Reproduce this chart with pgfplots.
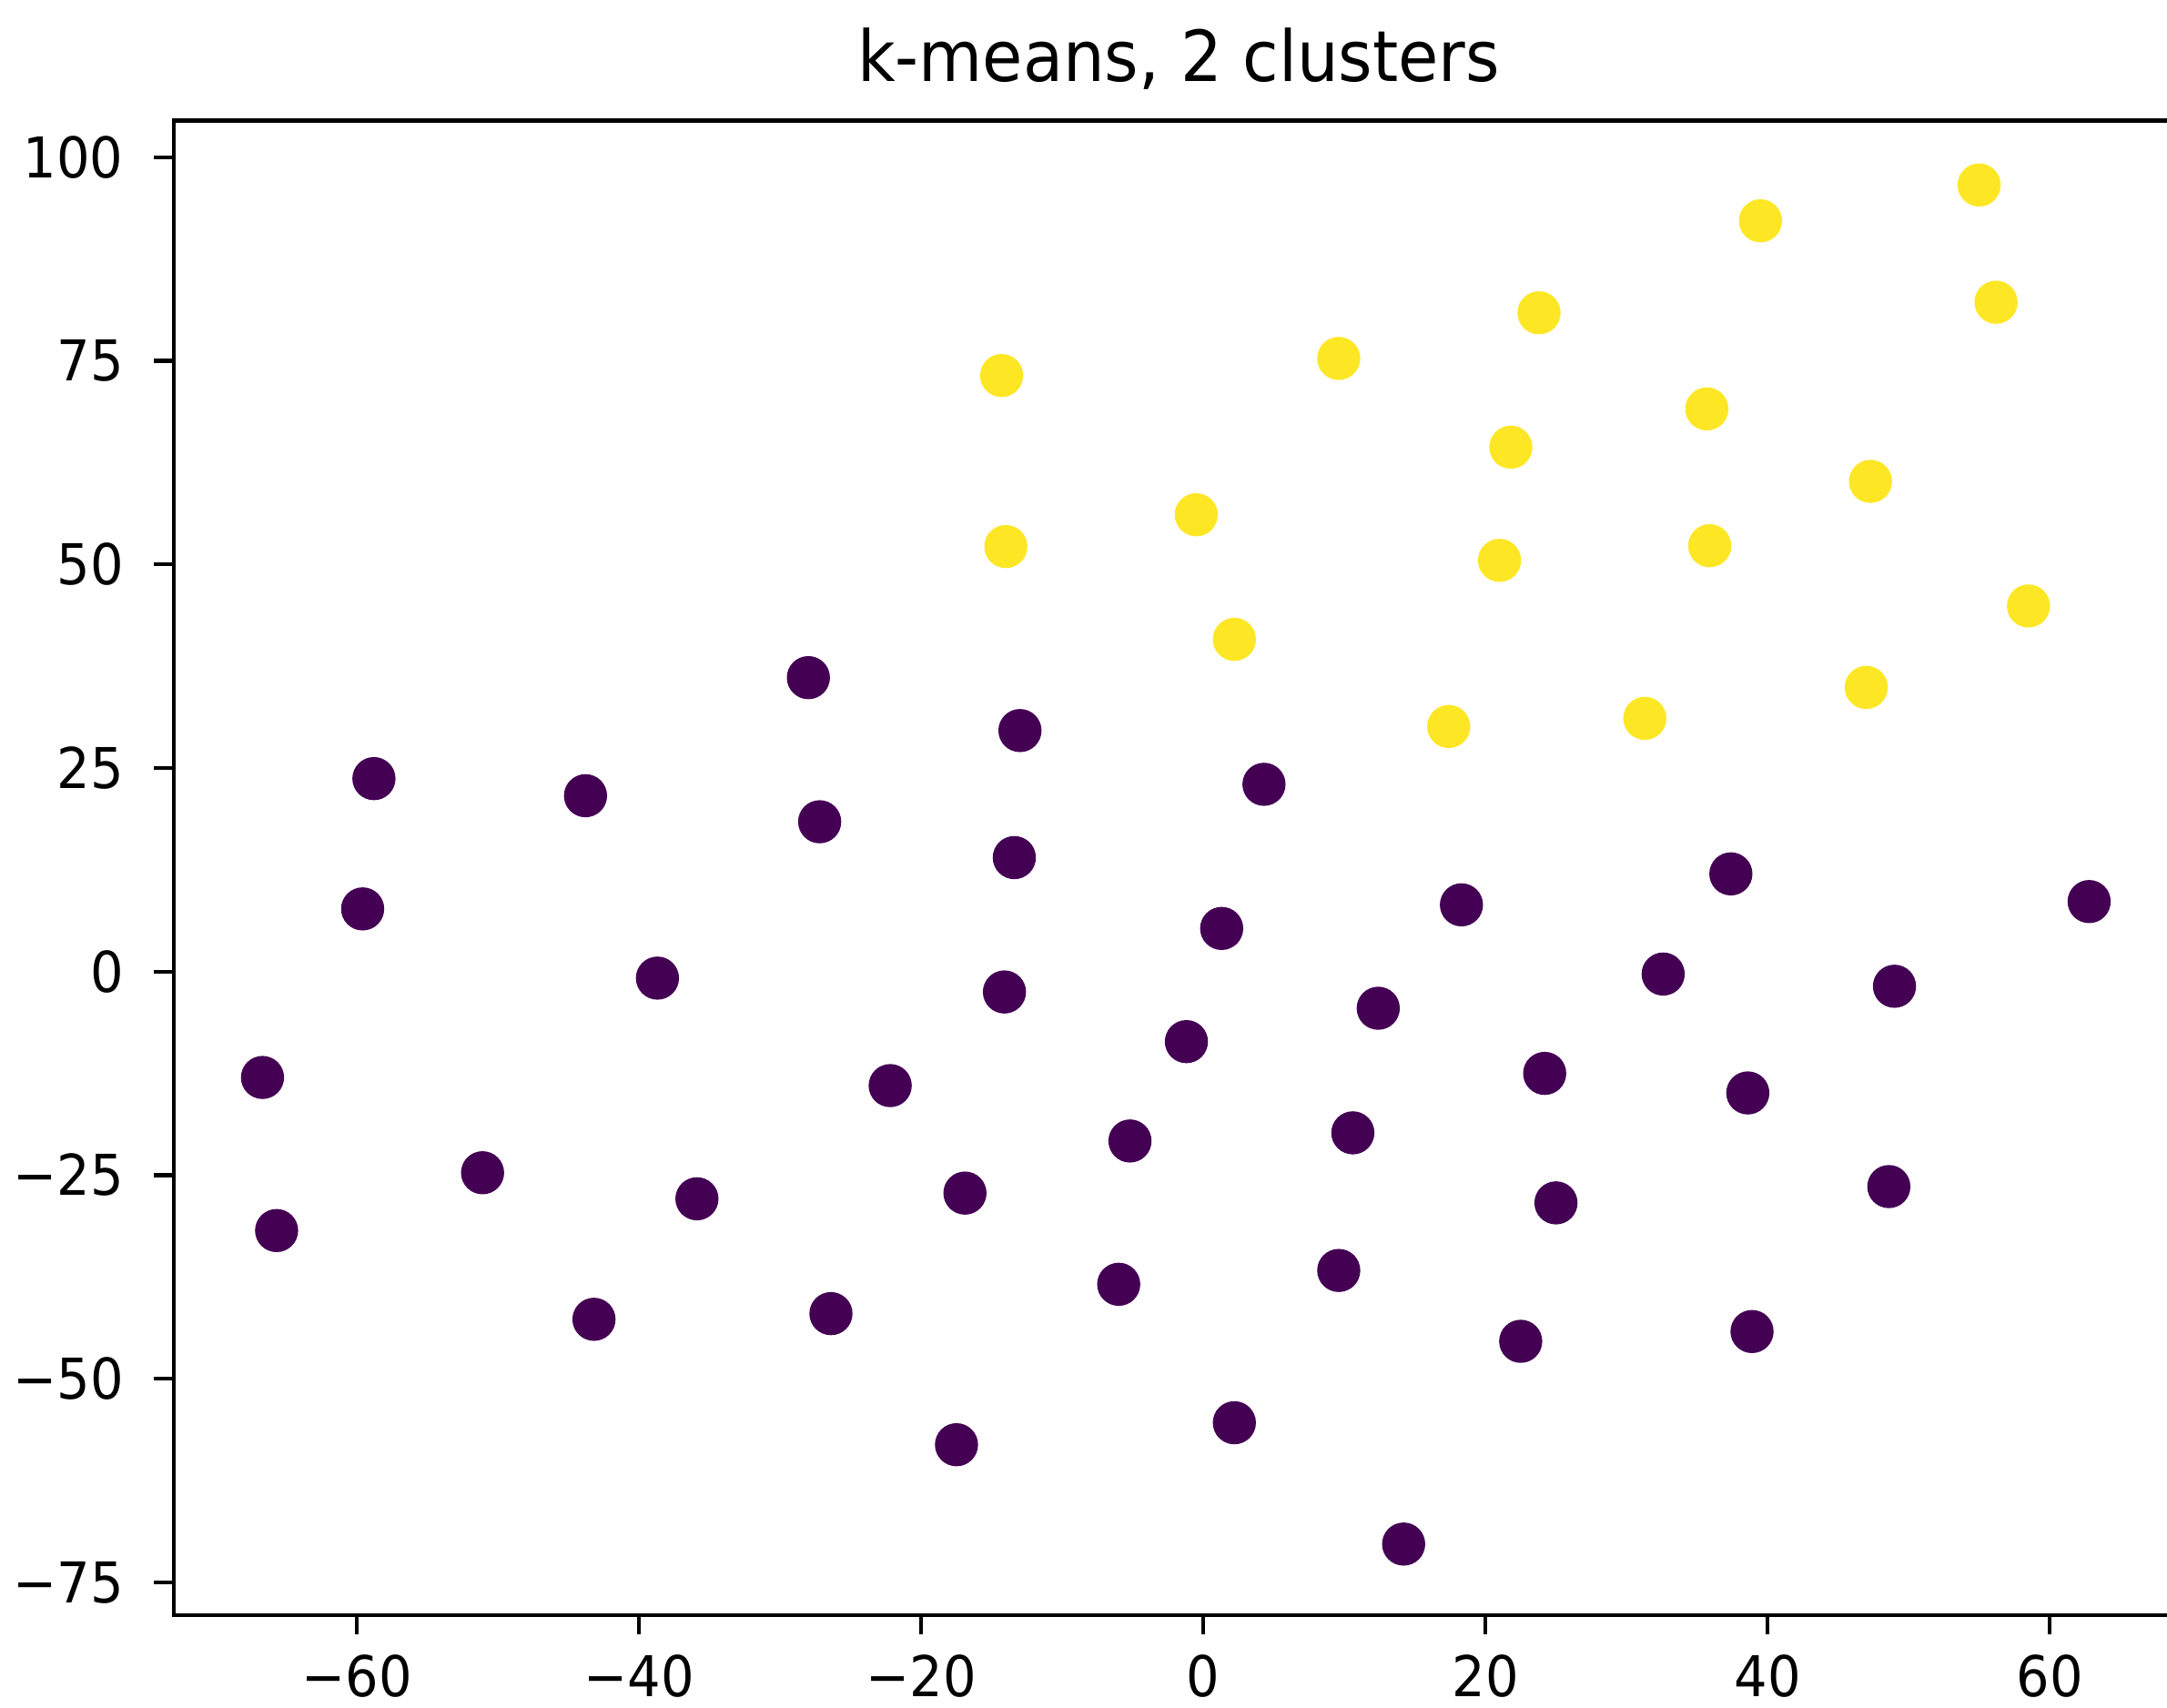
\documentclass[border=0pt]{standalone}
\usepackage{fontspec}
\setmainfont{DejaVu Sans}[FakeStretch=0.93]
\usepackage{pgfplots}
\pgfplotsset{compat=1.18}

\definecolor{vlow}{HTML}{440154}
\definecolor{vhigh}{HTML}{FDE725}

\begin{document}
\begin{tikzpicture}
\begin{axis}[
    at={(0,0)}, anchor=south west,
    scale only axis,
    width=368.1pt, height=273.7pt,
    xmin=-73, xmax=69.5,
    ymin=-79, ymax=104.5,
    axis line style={line width=0.7pt},
    every tick/.style={line width=0.7pt, black},
    tick align=outside,
    major tick length=3.6pt,
    tick pos=left,
    xtick={-60,-40,-20,0,20,40,60},
    xticklabels={−60,−40,−20,0,20,40,60},
    ytick={-75,-50,-25,0,25,50,75,100},
    yticklabels={−75,−50,−25,0,25,50,75,100},
    xticklabel style={font=\fontsize{10.3}{12}\selectfont, anchor=base, inner sep=0pt, yshift=-11.4pt},
    yticklabel style={font=\fontsize{10.3}{12}\selectfont, anchor=east, inner sep=0pt, xshift=-5.4pt},
    title={k-means, 2 clusters},
    every axis title/.style={font=\fontsize{12.9}{15}\selectfont, at={(0.5,1)}, anchor=base, yshift=7.2pt, inner sep=0pt},
]
% cluster 0 (purple)
\addplot[only marks, mark=*, mark size=3.75pt, mark options={fill=vlow, draw=vlow}] table {
x y
-28.0 36.1
-13.0 29.6
-58.8 23.7
-43.8 21.6
4.3 23.0
-27.2 18.4
-13.4 14.0
37.4 12.0
-59.6 7.7
18.3 8.2
62.8 8.6
1.3 5.3
-38.7 -0.8
32.6 -0.3
-14.1 -2.5
49.0 -1.8
12.4 -4.5
-1.2 -8.6
-66.7 -13.0
24.2 -12.5
-22.2 -14.0
38.6 -14.9
10.6 -19.8
-5.2 -20.8
-51.1 -24.7
48.6 -26.4
-16.9 -27.2
-35.9 -27.9
25.0 -28.4
-65.7 -31.8
9.6 -36.7
-6.0 -38.4
-26.4 -42.0
-43.2 -42.7
38.9 -44.2
22.5 -45.4
2.2 -55.4
-17.5 -58.1
14.2 -70.3
};
% cluster 1 (yellow)
\addplot[only marks, mark=*, mark size=3.75pt, mark options={fill=vhigh, draw=vhigh}] table {
x y
55.0 96.6
39.5 92.2
56.2 82.2
23.8 80.9
9.6 75.3
-14.3 73.2
35.7 69.1
21.8 64.4
47.3 60.2
-0.5 56.1
-14.0 52.2
35.9 52.3
21.0 50.5
58.5 44.9
2.2 40.8
47.0 34.9
31.3 31.1
17.4 30.1
};
\end{axis}
\pgfresetboundingbox
\useasboundingbox (-31.8pt,-17pt) rectangle (365.05pt,295.8pt);
\end{tikzpicture}
\end{document}
